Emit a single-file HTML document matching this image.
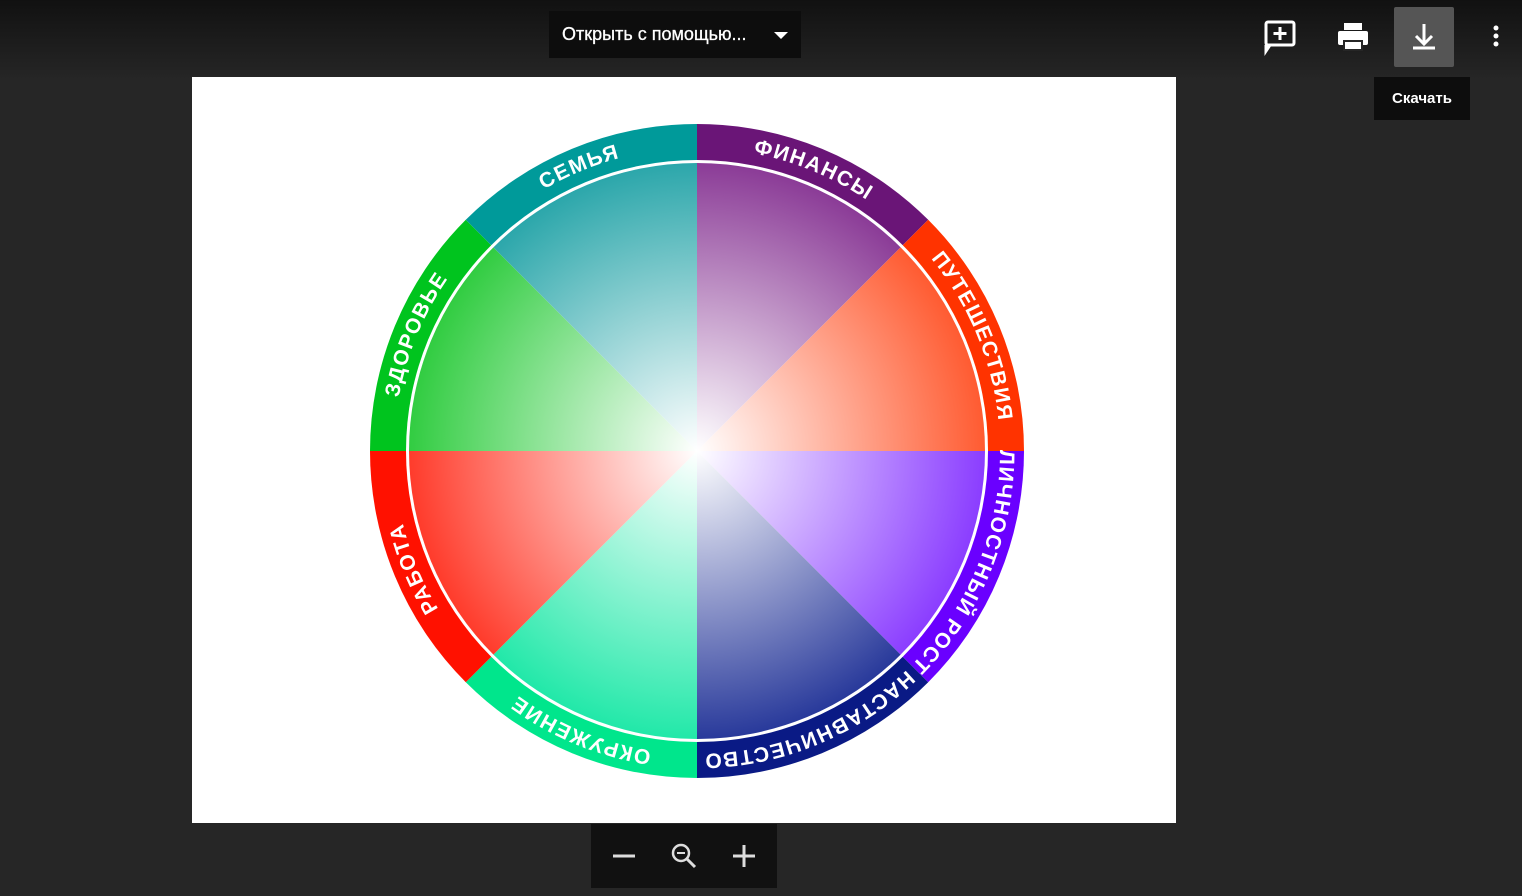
<!DOCTYPE html>
<html><head><meta charset="utf-8"><style>
html,body{margin:0;padding:0;width:1522px;height:896px;overflow:hidden;background:#262626;font-family:"Liberation Sans","Noto Sans CJK SC",sans-serif}
.top{position:absolute;left:0;top:0;width:1522px;height:80px;background:linear-gradient(#111,#262626)}
.open{position:absolute;left:549px;top:11px;width:252px;height:47px;background:#0d0d0d;color:#fff;font-size:18px;line-height:47px;box-sizing:border-box;padding-left:13px;-webkit-text-stroke:0.3px #fff}
.open:after{content:"";position:absolute;right:13px;top:21px;border:7px solid transparent;border-top:7px solid #fff}
.page{position:absolute;left:192px;top:77px;width:984px;height:746px;background:#fff}
.zoom{position:absolute;left:591px;top:824px;width:186px;height:64px;background:#111}
.tip{position:absolute;left:1374px;top:77px;width:96px;height:43px;background:#0d0d0d;color:#fff;font-size:15px;font-weight:bold;line-height:43px;text-align:center}
.dl{position:absolute;left:1394px;top:7px;width:60px;height:60px;background:#555;border-radius:2px}
</style></head><body>
<div class="top"></div>
<div class="open">Открыть с помощью...</div>
<div class="dl"></div>
<svg style="position:absolute;left:0;top:0" width="1522" height="896">
<g stroke="#fff" fill="none" stroke-width="3">
<rect x="1266" y="22" width="28" height="23" rx="2"/><path d="M1280 27v13M1273.5 33.5h13"/><path d="M1270 45l-4 6v-6" fill="#fff"/>
<path d="M1424 24v20M1416 36l8 8 8-8M1413 48h22"/>
</g>
<rect x="1338" y="31" width="30" height="14" rx="2" fill="#fff"/><rect x="1344" y="23" width="18" height="7" fill="#fff"/><rect x="1344" y="41" width="18" height="9" fill="#fff" stroke="#262626" stroke-width="2"/>
<circle cx="1496" cy="28" r="2.5" fill="#fff"/><circle cx="1496" cy="36" r="2.5" fill="#fff"/><circle cx="1496" cy="44" r="2.5" fill="#fff"/>
</svg>
<div class="page"></div>
<svg style="position:absolute;left:0;top:0" width="1522" height="896">
<defs>
<radialGradient id="g0" cx="697" cy="451" r="290" gradientUnits="userSpaceOnUse"><stop offset="0" stop-color="#fff"/><stop offset="1" stop-color="#8a3a96"/></radialGradient>
<radialGradient id="g1" cx="697" cy="451" r="290" gradientUnits="userSpaceOnUse"><stop offset="0" stop-color="#fff"/><stop offset="1" stop-color="#ff5a30"/></radialGradient>
<radialGradient id="g2" cx="697" cy="451" r="290" gradientUnits="userSpaceOnUse"><stop offset="0" stop-color="#fff"/><stop offset="1" stop-color="#8a3cff"/></radialGradient>
<radialGradient id="g3" cx="697" cy="451" r="290" gradientUnits="userSpaceOnUse"><stop offset="0" stop-color="#fff"/><stop offset="1" stop-color="#27389a"/></radialGradient>
<radialGradient id="g4" cx="697" cy="451" r="290" gradientUnits="userSpaceOnUse"><stop offset="0" stop-color="#fff"/><stop offset="1" stop-color="#20e8a8"/></radialGradient>
<radialGradient id="g5" cx="697" cy="451" r="290" gradientUnits="userSpaceOnUse"><stop offset="0" stop-color="#fff"/><stop offset="1" stop-color="#ff3a2a"/></radialGradient>
<radialGradient id="g6" cx="697" cy="451" r="290" gradientUnits="userSpaceOnUse"><stop offset="0" stop-color="#fff"/><stop offset="1" stop-color="#30cc40"/></radialGradient>
<radialGradient id="g7" cx="697" cy="451" r="290" gradientUnits="userSpaceOnUse"><stop offset="0" stop-color="#fff"/><stop offset="1" stop-color="#2aa6aa"/></radialGradient>
<path id="c" d="M697 148 A303 303 0 1 1 696.99 148"/>
</defs>
<path d="M697 451 L697 124 A327 327 0 0 1 928.2 219.8Z" fill="#6a1577"/>
<path d="M697 451 L928.2 219.8 A327 327 0 0 1 1024 451Z" fill="#ff3300"/>
<path d="M697 451 L1024 451 A327 327 0 0 1 928.2 682.2Z" fill="#6a00ff"/>
<path d="M697 451 L928.2 682.2 A327 327 0 0 1 697 778Z" fill="#0a1a85"/>
<path d="M697 451 L697 778 A327 327 0 0 1 465.8 682.2Z" fill="#00e68c"/>
<path d="M697 451 L465.8 682.2 A327 327 0 0 1 370 451Z" fill="#ff1100"/>
<path d="M697 451 L370 451 A327 327 0 0 1 465.8 219.8Z" fill="#00c41e"/>
<path d="M697 451 L465.8 219.8 A327 327 0 0 1 697 124Z" fill="#009a9a"/>
<circle cx="697" cy="451" r="291" fill="#fff"/>
<path d="M697 451 L697 163 A288 288 0 0 1 900.6 247.4Z" fill="url(#g0)"/>
<path d="M697 451 L900.6 247.4 A288 288 0 0 1 985 451Z" fill="url(#g1)"/>
<path d="M697 451 L985 451 A288 288 0 0 1 900.6 654.6Z" fill="url(#g2)"/>
<path d="M697 451 L900.6 654.6 A288 288 0 0 1 697 739Z" fill="url(#g3)"/>
<path d="M697 451 L697 739 A288 288 0 0 1 493.4 654.6Z" fill="url(#g4)"/>
<path d="M697 451 L493.4 654.6 A288 288 0 0 1 409 451Z" fill="url(#g5)"/>
<path d="M697 451 L409 451 A288 288 0 0 1 493.4 247.4Z" fill="url(#g6)"/>
<path d="M697 451 L493.4 247.4 A288 288 0 0 1 697 163Z" fill="url(#g7)"/>
<g fill="#fff" font-weight="bold" font-size="21" font-family="Liberation Sans,sans-serif" text-anchor="middle" letter-spacing="1.5">
<text><textPath href="#c" startOffset="6.25%">ФИНАНСЫ</textPath></text>
<text><textPath href="#c" startOffset="18.75%">ПУТЕШЕСТВИЯ</textPath></text>
<text><textPath href="#c" startOffset="31.25%">ЛИЧНОСТНЫЙ РОСТ</textPath></text>
<text><textPath href="#c" startOffset="43.75%">НАСТАВНИЧЕСТВО</textPath></text>
<text><textPath href="#c" startOffset="56.25%">ОКРУЖЕНИЕ</textPath></text>
<text><textPath href="#c" startOffset="68.75%">РАБОТА</textPath></text>
<text><textPath href="#c" startOffset="81.25%">ЗДОРОВЬЕ</textPath></text>
<text><textPath href="#c" startOffset="93.75%">СЕМЬЯ</textPath></text>
</g>
</svg>
<div class="zoom"></div>
<svg style="position:absolute;left:0;top:0" width="1522" height="896">
<g stroke="#ddd" stroke-width="3" fill="none">
<path d="M613 856h22M733 856h22M744 845v22"/>
<circle cx="681" cy="853" r="8" stroke-width="2.5"/><path d="M687 859l8 8" stroke-width="3"/><path d="M677 853h8" stroke-width="2"/>
</g>
</svg>
<div class="tip">Скачать</div>
</body></html>
